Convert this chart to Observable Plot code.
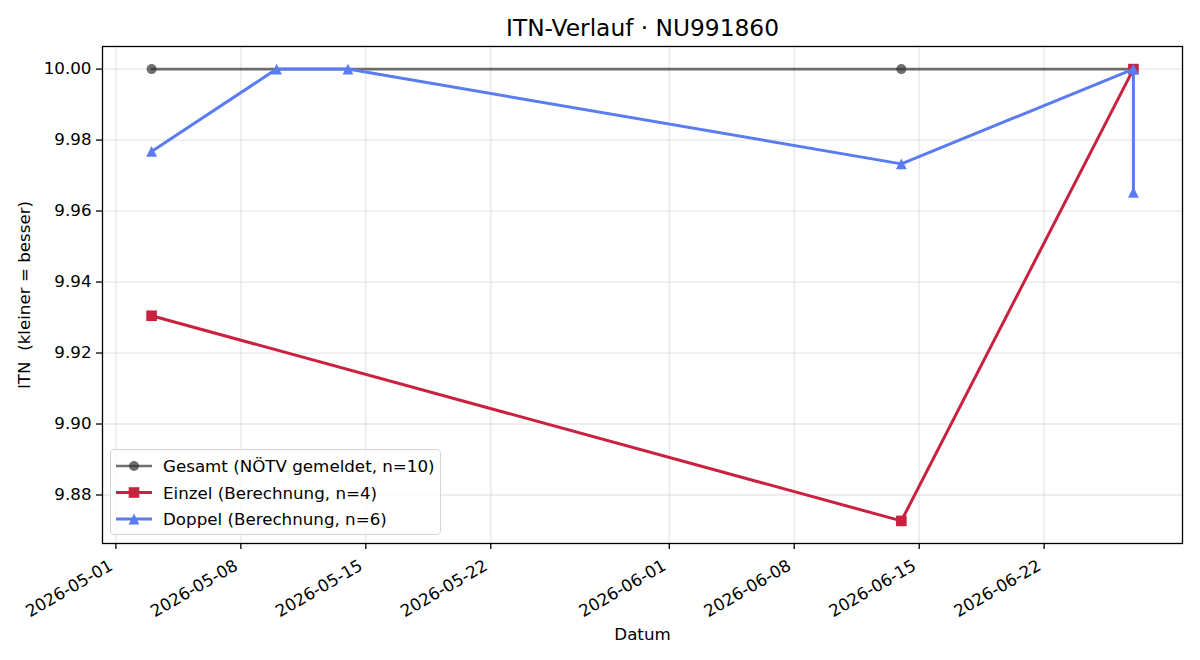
<!DOCTYPE html>
<html>
<head>
<meta charset="utf-8">
<script src="https://cdn.jsdelivr.net/npm/d3@7"></script>
<script src="https://cdn.jsdelivr.net/npm/@observablehq/plot@0.6"></script>
<style>
  html, body { margin: 0; padding: 0; background: #fff; }
  #chart { position: relative; width: 1200px; height: 660px; font-family: "DejaVu Sans", sans-serif; }
  #chart svg text { white-space: pre; }
  #legend { position: absolute; left: 110px; top: 449px; width: 329px; height: 84px;
            border: 1px solid #d4d4d4; border-radius: 4px; background: rgba(255,255,255,0.8); }
</style>
</head>
<body>
<div id="chart"></div>
<script>
// ITN history for player NU991860
const gesamtDates = ["2026-05-03", "2026-06-14", "2026-06-27"];
const gesamtITN   = [10.00, 10.00, 10.00];

const einzelDates = ["2026-05-03", "2026-06-14", "2026-06-27"];
const einzelITN   = [9.9305, 9.8727, 10.00];

const doppelDates = ["2026-05-03", "2026-05-10", "2026-05-14", "2026-06-14", "2026-06-27", "2026-06-27"];
const doppelITN   = [9.9768, 10.00, 10.00, 9.9733, 10.00, 9.9653];

const xTickLabels = ["2026-05-01", "2026-05-08", "2026-05-15", "2026-05-22", "2026-06-01", "2026-06-08", "2026-06-15", "2026-06-22"];
const yTicks = [9.88, 9.90, 9.92, 9.94, 9.96, 9.98, 10.00];

const seriesNames = ["Gesamt (NÖTV gemeldet, n=10)", "Einzel (Berechnung, n=4)", "Doppel (Berechnung, n=6)"];
const titleText = "ITN-Verlauf · NU991860";
const xLabel = "Datum";
const yLabel = "ITN  (kleiner = besser)";

const parse = s => new Date(s + "T00:00:00Z");
const rows = (dates, vals) => dates.map((d, i) => ({date: parse(d), itn: vals[i]}));
const gesamt = rows(gesamtDates, gesamtITN);
const einzel = rows(einzelDates, einzelITN);
const doppel = rows(doppelDates, doppelITN);
const xTicks = xTickLabels.map(parse);

// colours
const cGesamt = "#333333", cEinzel = "#c9213f", cDoppel = "#5b7bf0";

// marker shapes sized like the circle (side = 2r)
const squareSym = {draw(ctx, size) { const h = Math.sqrt(size / Math.PI);
  ctx.moveTo(-h, -h); ctx.lineTo(h, -h); ctx.lineTo(h, h); ctx.lineTo(-h, h); ctx.closePath(); }};
const triSym = {draw(ctx, size) { const h = Math.sqrt(size / Math.PI);
  ctx.moveTo(0, -h); ctx.lineTo(h, h); ctx.lineTo(-h, h); ctx.closePath(); }};

// 5 % padding around the data extent
const allDates = [...gesamt, ...einzel, ...doppel].map(d => d.date);
const allVals = [...gesamt, ...einzel, ...doppel].map(d => d.itn);
const [d0, d1] = d3.extent(allDates);
const [v0, v1] = d3.extent(allVals);
const dPad = (d1 - d0) * 0.05, vPad = (v1 - v0) * 0.05;

const plot = Plot.plot({
  width: 1200, height: 660,
  marginLeft: 102, marginRight: 18, marginTop: 46, marginBottom: 117,
  x: {type: "utc", domain: [new Date(+d0 - dPad), new Date(+d1 + dPad)]},
  y: {domain: [v0 - vPad, v1 + vPad]},
  style: {fontFamily: "'DejaVu Sans', sans-serif", fontSize: "16.7px", color: "black", background: "white"},
  marks: [
    Plot.gridX({ticks: xTicks, stroke: "#b0b0b0", strokeOpacity: 0.3, strokeWidth: 1.3}),
    Plot.gridY({ticks: yTicks, stroke: "#b0b0b0", strokeOpacity: 0.3, strokeWidth: 1.3}),

    Plot.line(gesamt, {x: "date", y: "itn", stroke: cGesamt, strokeOpacity: 0.7, strokeWidth: 2.6}),
    Plot.dot(gesamt, {x: "date", y: "itn", fill: cGesamt, fillOpacity: 0.7, r: 5, symbol: "circle"}),

    Plot.line(einzel, {x: "date", y: "itn", stroke: cEinzel, strokeWidth: 3}),
    Plot.dot(einzel, {x: "date", y: "itn", fill: cEinzel, r: 5.3, symbol: squareSym}),

    Plot.line(doppel, {x: "date", y: "itn", stroke: cDoppel, strokeWidth: 3}),
    Plot.dot(doppel, {x: "date", y: "itn", fill: cDoppel, r: 5.4, symbol: triSym}),

    Plot.axisY({ticks: yTicks, tickSize: 6, tickPadding: 5, strokeWidth: 1.3,
                tickFormat: d => d.toFixed(2), label: null, fontSize: 16.7}),
    Plot.axisX({ticks: xTicks, tickSize: 6, strokeWidth: 1.3, tickFormat: () => "", label: null}),
    Plot.text(xTicks, {x: d => d, text: (d, i) => xTickLabels[i], frameAnchor: "bottom",
                       dx: -2, dy: 25.5, rotate: -30, textAnchor: "end", lineAnchor: "bottom", fontSize: 16.7}),

    Plot.frame({stroke: "black", strokeWidth: 1.3}),

    Plot.text([titleText], {frameAnchor: "top", dy: -11, lineAnchor: "bottom", fontSize: 23.3}),
    Plot.text([xLabel], {frameAnchor: "bottom", dy: 96, lineAnchor: "bottom", fontSize: 16.7}),
    Plot.text([yLabel], {frameAnchor: "left", dx: -73, rotate: -90, textAnchor: "middle",
                         lineAnchor: "bottom", fontSize: 16.7})
  ]
});

const chart = document.getElementById("chart");
chart.appendChild(plot);

// legend box
const legend = document.createElement("div");
legend.id = "legend";
chart.appendChild(legend);
const lsvg = d3.select(legend).append("svg").attr("width", 329).attr("height", 84)
  .style("font-family", "'DejaVu Sans', sans-serif").style("font-size", "16.7px");
const entries = [
  {name: seriesNames[0], color: cGesamt, opacity: 0.7, width: 2.6, sym: d3.symbolCircle, size: Math.PI * 25},
  {name: seriesNames[1], color: cEinzel, opacity: 1, width: 3, sym: squareSym, size: Math.PI * 5.3 * 5.3},
  {name: seriesNames[2], color: cDoppel, opacity: 1, width: 3, sym: triSym, size: Math.PI * 5.4 * 5.4}
];
entries.forEach((e, i) => {
  const g = lsvg.append("g").attr("transform", `translate(0, ${16 + i * 26.5})`);
  g.append("line").attr("x1", 5).attr("x2", 41).attr("y1", 0).attr("y2", 0)
    .attr("stroke", e.color).attr("stroke-opacity", e.opacity).attr("stroke-width", e.width);
  g.append("path").attr("transform", "translate(23,0)").attr("d", d3.symbol(e.sym, e.size)())
    .attr("fill", e.color).attr("fill-opacity", e.opacity);
  g.append("text").attr("x", 52).attr("y", 0).attr("dy", "0.36em").text(e.name);
});
</script>
</body>
</html>
